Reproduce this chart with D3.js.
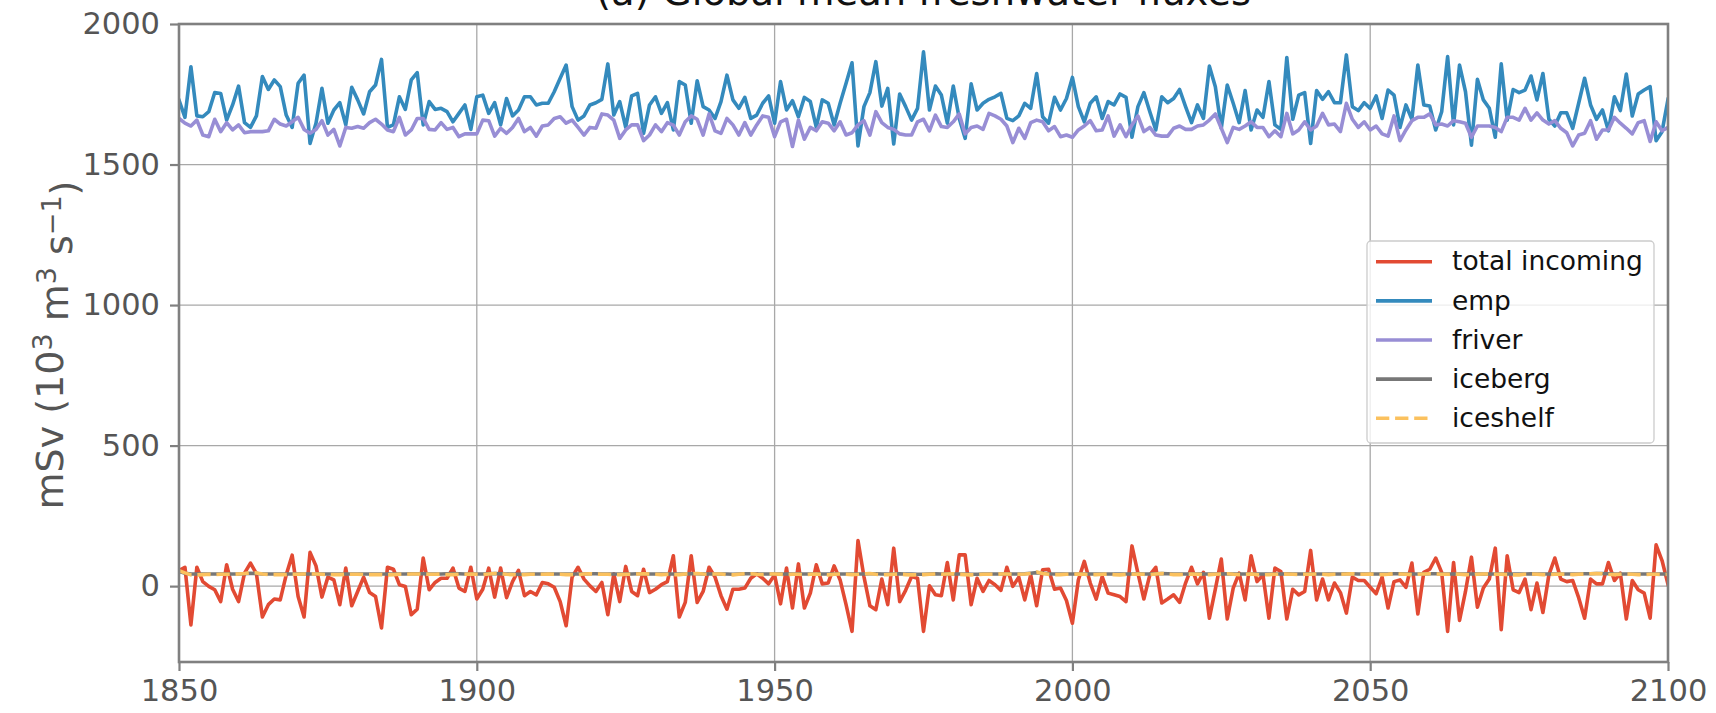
<!DOCTYPE html>
<html>
<head>
<meta charset="utf-8">
<script src="https://cdn.jsdelivr.net/npm/d3@7"></script>
<style>
  html, body { margin: 0; padding: 0; background: #fff; }
  svg { display: block; font-family: "DejaVu Sans", sans-serif; }
</style>
</head>
<body>
<svg id="chart" width="1716" height="713"></svg>
<script>
// ---------------- data ----------------
const startYear = 1850;
const endYear = 2100;

const totalIncoming = [
  55,67,-138,67,16,-1,-13,-55,76,-11,
  -55,46,82,44,-110,-66,-46,-49,40,110,
  -37,-110,120,72,-39,32,22,-66,64,-70,
  -19,32,-23,-37,-149,67,60,5,-1,-102,
  -82,100,-13,13,28,28,64,-7,-19,67,
  -46,-11,64,-39,64,-41,16,56,-34,-19,
  -31,13,8,-4,-55,-141,32,67,25,1,
  -19,13,-102,44,-55,70,-19,-34,60,-23,
  -11,5,16,108,-110,-58,108,-58,-19,67,
  32,-34,-82,-11,-11,-7,28,44,28,8,
  40,-63,64,-78,79,-78,-25,76,8,11,
  72,22,-66,-161,162,34,-70,-84,25,-66,
  135,-55,-15,34,28,-161,1,-31,-34,84,
  -49,111,111,-66,28,-19,20,5,-15,67,
  -1,32,-49,40,-70,58,60,-11,-7,-51,
  -132,22,88,11,-46,34,-25,-31,-37,-55,
  143,46,-46,40,67,-60,-46,-31,-58,11,
  67,8,49,-114,-11,96,-117,-7,46,-49,
  108,16,40,-114,64,52,-117,-11,-31,-19,
  127,-49,25,-49,11,-23,-96,32,20,20,
  -4,-27,32,-78,16,22,-4,82,-99,49,
  60,100,49,-161,84,-122,-19,103,-75,-7,
  25,135,-155,108,-13,-23,25,-84,11,-94,
  40,100,25,16,20,-41,-114,25,8,8,
  84,20,46,-117,20,-13,-25,-114,147,91,
  6
];

const emp = [
  1729,1668,1848,1673,1670,1688,1756,1753,1658,1712,
  1779,1649,1632,1673,1813,1767,1801,1777,1676,1632,
  1789,1818,1575,1647,1771,1647,1694,1720,1641,1775,
  1730,1680,1759,1783,1874,1632,1641,1741,1696,1801,
  1827,1641,1724,1696,1700,1688,1652,1682,1712,1625,
  1741,1747,1682,1720,1641,1735,1673,1694,1741,1741,
  1712,1718,1718,1759,1807,1854,1706,1658,1673,1712,
  1720,1732,1858,1676,1724,1632,1744,1753,1611,1712,
  1741,1682,1720,1623,1795,1783,1647,1798,1706,1694,
  1664,1724,1818,1730,1700,1739,1664,1676,1718,1744,
  1647,1795,1694,1727,1670,1739,1724,1632,1730,1718,
  1641,1718,1789,1862,1566,1706,1756,1866,1708,1771,
  1573,1751,1706,1658,1700,1901,1694,1779,1747,1647,
  1779,1664,1593,1787,1694,1718,1732,1741,1753,1664,
  1656,1673,1718,1700,1824,1670,1647,1739,1694,1735,
  1810,1706,1652,1718,1741,1664,1724,1712,1751,1739,
  1597,1706,1756,1688,1623,1741,1720,1735,1767,1706,
  1649,1712,1664,1850,1777,1629,1783,1718,1649,1763,
  1623,1694,1668,1795,1641,1625,1881,1661,1747,1756,
  1575,1763,1732,1759,1720,1720,1890,1706,1692,1720,
  1700,1744,1664,1765,1747,1632,1712,1661,1854,1712,
  1708,1623,1688,1884,1641,1854,1759,1569,1803,1730,
  1700,1597,1858,1658,1767,1756,1765,1815,1730,1824,
  1661,1637,1684,1684,1629,1718,1807,1712,1661,1694,
  1620,1741,1692,1822,1673,1751,1765,1777,1585,1617,
  1732
];

const friver = [
  1664,1647,1637,1658,1605,1599,1661,1617,1649,1623,
  1641,1613,1617,1617,1617,1620,1661,1644,1637,1652,
  1668,1625,1611,1625,1656,1605,1625,1566,1632,1629,
  1635,1629,1649,1661,1644,1623,1617,1668,1605,1623,
  1664,1664,1625,1623,1649,1625,1632,1599,1609,1609,
  1609,1658,1656,1601,1629,1611,1632,1664,1617,1632,
  1601,1637,1641,1664,1670,1647,1658,1632,1605,1632,
  1629,1680,1676,1658,1593,1623,1641,1641,1585,1605,
  1641,1617,1649,1640,1605,1652,1673,1661,1605,1680,
  1620,1611,1664,1641,1605,1649,1605,1641,1673,1668,
  1599,1652,1661,1564,1658,1590,1632,1620,1652,1647,
  1620,1652,1605,1613,1641,1656,1605,1688,1649,1632,
  1625,1609,1605,1605,1652,1661,1620,1676,1635,1632,
  1652,1680,1609,1632,1637,1625,1682,1673,1661,1637,
  1578,1629,1593,1649,1658,1652,1620,1635,1599,1605,
  1597,1623,1637,1656,1620,1623,1673,1601,1641,1599,
  1641,1673,1617,1632,1605,1601,1601,1629,1637,1625,
  1625,1637,1641,1658,1680,1629,1578,1632,1625,1637,
  1652,1632,1632,1599,1620,1599,1682,1609,1623,1652,
  1623,1637,1682,1641,1644,1617,1718,1661,1632,1652,
  1623,1637,1609,1601,1673,1585,1623,1656,1668,1668,
  1680,1641,1644,1637,1656,1652,1647,1597,1637,1637,
  1637,1632,1617,1668,1668,1658,1700,1658,1684,1658,
  1644,1656,1629,1613,1566,1605,1611,1656,1590,1623,
  1623,1668,1647,1629,1609,1649,1656,1582,1652,1620,
  1632
];

const iceberg = [
  52,46,43,43,43,43,43,43,43,43,
  43,44,46,45,43,43,43,43,43,43,
  43,43,43,43,43,43,43,43,43,43,
  43,43,43,43,43,43,43,43,43,44,
  44,44,43,43,43,44,45,44,43,43,
  43,43,44,45,44,43,43,42,42,43,
  43,43,43,43,43,43,43,43,43,44,
  44,43,43,43,43,43,43,44,44,43,
  43,43,43,43,43,43,44,44,43,43,
  43,43,43,42,43,44,44,43,43,43,
  43,43,43,43,43,43,43,43,43,43,
  43,43,43,43,43,43,44,44,43,43,
  43,44,43,43,42,42,43,44,43,43,
  43,43,43,42,42,43,43,43,43,43,
  43,43,44,46,48,46,44,43,43,43,
  43,43,43,43,43,43,43,43,43,43,
  43,44,43,43,44,45,44,43,43,43,
  43,43,43,43,43,43,44,43,43,43,
  43,43,43,43,43,43,44,43,43,43,
  43,43,43,43,43,43,44,44,43,43,
  43,43,43,43,44,44,43,43,43,43,
  44,44,43,43,43,43,43,43,43,43,
  43,43,43,43,43,43,43,44,43,43,
  43,43,43,43,43,43,44,44,45,45,
  44,43,43,43,43,43,43,43,43,43,
  43
];

const iceshelf = [
  55,47,40,40,41,42,41,42,42,42,
  43,45,48,47,43,41,41,41,41,42,
  42,43,43,43,42,41,41,41,42,42,
  42,41,41,41,41,40,41,42,42,43,
  43,43,42,42,43,41,41,42,42,43,
  42,41,43,45,44,42,41,40,41,42,
  42,42,43,42,42,41,41,41,43,44,
  43,42,42,41,41,42,42,43,44,43,
  42,41,42,41,41,43,44,45,43,42,
  43,43,41,40,42,44,44,42,41,43,
  43,42,41,42,42,41,42,43,41,40,
  42,43,42,41,42,44,45,42,40,41,
  42,43,41,40,40,41,42,43,42,43,
  44,42,41,40,41,42,42,42,43,43,
  42,42,43,45,50,45,42,41,41,42,
  42,43,42,41,41,42,43,41,40,42,
  42,43,42,41,43,45,43,41,41,42,
  43,42,41,41,42,43,44,42,41,42,
  43,41,40,41,42,42,43,42,41,42,
  42,43,42,41,42,42,43,44,42,42,
  43,42,41,42,44,43,42,41,42,43,
  44,43,42,42,43,42,41,40,42,43,
  43,42,42,41,40,40,42,43,42,41,
  41,42,43,42,41,42,43,44,45,44,
  42,41,42,43,42,41,41,42,42,41,
  42
];

const seriesNames = ["total incoming", "emp", "friver", "iceberg", "iceshelf"];
const seriesColors = ["#E24A33", "#348ABD", "#988ED5", "#777777", "#FBC15E"];
const seriesDash = [null, null, null, null, "13.3,5.8"];
const xTicks = [1850, 1900, 1950, 2000, 2050, 2100];
const yTicks = [0, 500, 1000, 1500, 2000];
const titleText = "(a) Global mean freshwater fluxes";

// ---------------- layout ----------------
const W = 1716, H = 713;
const plot = { left: 179, top: 24, right: 1668, bottom: 662 };
const lineW = 3.6;

const svg = d3.select("#chart");
const years = d3.range(startYear, endYear + 1);
const allSeries = [totalIncoming, emp, friver, iceberg, iceshelf];

const x = d3.scaleLinear().domain([startYear, endYear]).range([plot.left, plot.right]);
const y = d3.scaleLinear().domain([-270, 2000]).range([plot.bottom, plot.top]);

svg.append("rect").attr("width", W).attr("height", H).attr("fill", "#fff");

// clip
svg.append("defs").append("clipPath").attr("id", "clip")
  .append("rect")
  .attr("x", plot.left).attr("y", plot.top)
  .attr("width", plot.right - plot.left).attr("height", plot.bottom - plot.top);

// grid
const grid = svg.append("g");
grid.selectAll("line.gx").data(xTicks).join("line")
  .attr("x1", d => x(d)).attr("x2", d => x(d))
  .attr("y1", plot.top).attr("y2", plot.bottom)
  .attr("stroke", "#a8a8a8").attr("stroke-width", 1.3);
grid.selectAll("line.gy").data(yTicks).join("line")
  .attr("x1", plot.left).attr("x2", plot.right)
  .attr("y1", d => y(d)).attr("y2", d => y(d))
  .attr("stroke", "#a8a8a8").attr("stroke-width", 1.3);

// lines
const line = d3.line().x((d, i) => x(years[i])).y(d => y(d));
const lines = svg.append("g").attr("clip-path", "url(#clip)");
allSeries.forEach((s, k) => {
  lines.append("path")
    .datum(s)
    .attr("d", line)
    .attr("fill", "none")
    .attr("stroke", seriesColors[k])
    .attr("stroke-width", lineW)
    .attr("stroke-linejoin", "round")
    .attr("stroke-linecap", seriesDash[k] ? "butt" : "square")
    .attr("stroke-dasharray", seriesDash[k]);
});

// axes
const tickColor = "#555555";
const xAxis = d3.axisBottom(x).tickValues(xTicks).tickFormat(d3.format("d")).tickSizeInner(9).tickSizeOuter(0).tickPadding(8);
const yAxis = d3.axisLeft(y).tickValues(yTicks).tickFormat(d3.format("d")).tickSizeInner(9).tickSizeOuter(0).tickPadding(10);

const gx = svg.append("g").attr("transform", `translate(0,${plot.bottom})`).call(xAxis);
const gy = svg.append("g").attr("transform", `translate(${plot.left},0)`).call(yAxis);
[gx, gy].forEach(g => {
  g.select(".domain").remove();
  g.selectAll(".tick line").attr("stroke", "#808080").attr("stroke-width", 2.2);
  g.selectAll(".tick text").attr("fill", tickColor).attr("font-size", "30.5px")
    .attr("font-family", "DejaVu Sans");
});

// frame
svg.append("rect")
  .attr("x", plot.left).attr("y", plot.top)
  .attr("width", plot.right - plot.left).attr("height", plot.bottom - plot.top)
  .attr("fill", "none").attr("stroke", "#808080").attr("stroke-width", 2.6);

// title
svg.append("text")
  .attr("x", (plot.left + plot.right) / 2).attr("y", 5)
  .attr("text-anchor", "middle")
  .attr("font-size", "38.5px").attr("fill", "#111")
  .text(titleText);

// y label
const yl = svg.append("text")
  .attr("transform", `translate(63,${(plot.top + plot.bottom) / 2 + 2}) rotate(-90)`)
  .attr("text-anchor", "middle")
  .attr("font-size", "38px").attr("fill", tickColor);
yl.append("tspan").text("mSv (10");
yl.append("tspan").attr("dy", "-0.42em").attr("font-size", "27px").text("3");
yl.append("tspan").attr("dy", "0.42em").text(" m");
yl.append("tspan").attr("dy", "-0.42em").attr("font-size", "27px").text("3");
yl.append("tspan").attr("dy", "0.42em").text(" s");
yl.append("tspan").attr("dy", "-0.42em").attr("font-size", "27px").text("\u22121");
yl.append("tspan").attr("dy", "0.42em").text(")");

// legend
const lg = svg.append("g");
const lgBox = { x: 1367, y: 241, w: 287, h: 202 };
lg.append("rect")
  .attr("x", lgBox.x).attr("y", lgBox.y).attr("width", lgBox.w).attr("height", lgBox.h)
  .attr("rx", 4).attr("fill", "#fff").attr("fill-opacity", 0.8)
  .attr("stroke", "#cccccc").attr("stroke-width", 1.3);
const lgFont = 26.5;
seriesNames.forEach((name, k) => {
  const cy = 261.7 + k * 39.15;
  lg.append("line")
    .attr("x1", 1376).attr("x2", 1432).attr("y1", cy).attr("y2", cy)
    .attr("stroke", seriesColors[k]).attr("stroke-width", lineW)
    .attr("stroke-dasharray", seriesDash[k]);
  lg.append("text")
    .attr("x", 1452).attr("y", cy + 0.33 * lgFont)
    .attr("font-size", lgFont + "px").attr("fill", "#111")
    .text(name);
});
</script>
</body>
</html>
